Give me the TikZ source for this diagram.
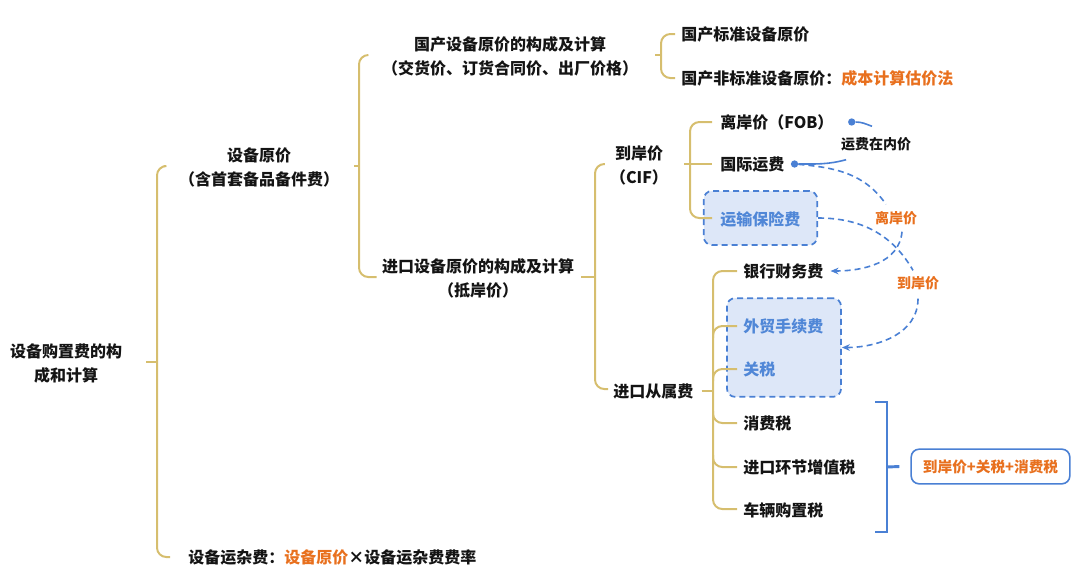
\documentclass[tikz,border=0pt]{standalone}
\usepackage{fontspec}
\setmainfont{Noto Sans CJK SC}
\usetikzlibrary{calc,arrows.meta}
\definecolor{gold}{RGB}{214,190,110}
\definecolor{bblue}{RGB}{74,128,212}
\definecolor{tblue}{RGB}{80,135,215}
\definecolor{lblue}{RGB}{221,231,248}
\definecolor{orng}{RGB}{232,112,30}
\definecolor{ink}{RGB}{20,20,20}
\begin{document}
\begin{tikzpicture}[x=0.75pt,y=-0.75pt,
  txt/.style={inner sep=0pt,font=\fontsize{12}{18}\selectfont\bfseries,text=ink,align=center},
  lbl/.style={inner sep=2pt,font=\fontsize{10.5}{14}\selectfont\bfseries},
  br/.style={draw=gold,line width=1.5pt,rounded corners=7pt},
  dbox/.style={draw=bblue,dash pattern=on 4.5pt off 3pt,line width=1.3pt,fill=lblue,rounded corners=6pt,inner sep=0pt},
  dline/.style={draw=bblue,dash pattern=on 4.5pt off 3pt,line width=1.2pt},
  dotn/.style={circle,fill=bblue,inner sep=0pt,minimum size=5.5pt},
  bluebr/.style={draw=bblue,line width=2.2pt}]
\useasboundingbox (0,0) rectangle (1080,576);
% dashed boxes
\node[dbox,minimum width=85pt,minimum height=40.5pt] (bxbox) at (760.5,218) {};
\node[dbox,minimum width=85.5pt,minimum height=74pt] (box2) at (784,347.5) {};
% texts
\node[txt] (root) at (66,363) {设备购置费的构\\成和计算};
\node[txt] (yj) at (259,167) {设备原价\\（含首套备品备件费）};
\node[txt,anchor=west] (ysf) at (188,557) {设备运杂费：\textcolor{orng}{设备原价}×设备运杂费费率};
\node[txt] (gc) at (510,56) {国产设备原价的构成及计算\\（交货价、订货合同价、出厂价格）};
\node[txt] (jk) at (478,278) {进口设备原价的构成及计算\\（抵岸价）};
\node[txt,anchor=west] (gb) at (681,34) {国产标准设备原价};
\node[txt,anchor=west] (gf) at (681,78) {国产非标准设备原价：\textcolor{orng}{成本计算估价法}};
\node[txt] (daj) at (639,165) {到岸价\\（CIF）};
\node[txt,anchor=west] (cs) at (613,391) {进口从属费};
\node[txt,anchor=west] (fob) at (720,122) {离岸价（FOB）};
\node[txt,anchor=west] (yf) at (720,165) {国际运费};
\node[txt,anchor=west,text=tblue] (bx) at (720,219) {运输保险费};
\node[txt,anchor=west] (yh) at (743,271) {银行财务费};
\node[txt,anchor=west,text=tblue] (wm) at (743,326) {外贸手续费};
\node[txt,anchor=west,text=tblue] (gs) at (743,369) {关税};
\node[txt,anchor=west] (xf) at (743,423) {消费税};
\node[txt,anchor=west] (zz) at (743,467) {进口环节增值税};
\node[txt,anchor=west] (cl) at (743,510) {车辆购置税};
\node[draw=bblue,line width=1.2pt,rounded corners=6pt,fill=white,minimum width=119pt,minimum height=26pt,inner sep=0pt,
      font=\fontsize{11}{14}\selectfont\bfseries,text=orng] (fm) at (990.5,466.5) {到岸价+关税+消费税};
\node[lbl,text=ink] (nj) at (876,144) {运费在内价};
\node[lbl,text=orng] (lab1) at (896,218) {离岸价};
\node[lbl,text=orng] (lab2) at (918,283) {到岸价};
% spines
\coordinate (s1) at (157,362);
\coordinate (s2) at (359,166);
\coordinate (s3) at (661,55);
\coordinate (s4) at (595,277);
\coordinate (s5) at (690,164);
\coordinate (s6) at (713,391);
% level 1
\draw[br] ($(root.east)+(24,-1)$) -- (s1);
\draw[br] ($(yj.west)+(-15,-1)$) -| (s1) |- ($(ysf.west)+(-18,0)$);
% level 2
\draw[br] ($(yj.east)+(15,-1)$) -- (s2);
\draw[br] ($(gc.west)+(-14,-1)$) -| (s2) |- ($(jk.west)+(-5,-1)$);
% level 3 domestic
\draw[br] ($(gc.east)+(17,-1)$) -- (s3);
\draw[br] ($(gb.west)+(-6,0)$) -| (s3) |- ($(gf.west)+(-6,0)$);
% level 3 import
\draw[br] ($(jk.east)+(7,-1)$) -- (s4);
\draw[br] ($(daj.west)+(-5,-1)$) -| (s4) |- ($(cs.west)+(-5,-2)$);
% level 4 CIF
\draw[br] ($(daj.east)+(16,-1)$) -- ($(yf.west)+(-8,-1)$);
\draw[br] ($(fob.west)+(-8,0)$) -| (s5) |- ($(bx.west)+(-8,-1)$);
% level 4 subsidiary fees
\draw[br] ($(cs.east)+(8,0)$) -- (s6);
\draw[br] ($(yh.west)+(-6,0)$) -| (s6) |- ($(cl.west)+(-6,-1)$);
\draw[br] ($(wm.west)+(-6,0)$) -| ++(-24,12);
\draw[br] ($(gs.west)+(-6,0)$) -| ++(-24,12);
\draw[br] ($(xf.west)+(-6,0)$) -| ++(-24,-12);
\draw[br] ($(zz.west)+(-6,0)$) -| ++(-24,-12);
% blue bracket
\draw[bluebr] (875,402) -- (887,402) -- (887,532) -- (875,532);
\draw[bluebr] (887,467) -- ($(fm.west)+(-11,0)$);
% dots and solid links
\node[dotn] (fobdot) at ($(fob.east)+(18,0)$) {};
\node[dotn] (yfdot) at ($(yf.east)+(10,-1)$) {};
\draw[draw=bblue,line width=1.2pt] (fobdot) to[out=0,in=160] ($(nj.north)+(-4,-8)$);
\draw[draw=bblue,line width=1.2pt] (yfdot) to[out=0,in=195] ($(nj.south west)+(8,6)$);
% dashed arrows
\draw[dline] (yfdot) to[out=-5,in=125] ($(lab1.north)+(-10,-4)$);
\draw[dline,-{Stealth[length=6pt,width=5pt]}] ($(lab1.south)+(6,4)$) to[out=-95,in=0] ($(yh.east)+(7,0)$);
\draw[dline] (bxbox.east) to[out=0,in=120] ($(lab2.north)+(-5,-3)$);
\draw[dline,-{Stealth[length=6pt,width=5pt]}] ($(lab2.south)+(0,6)$) to[out=-90,in=0] (box2.east);
\end{tikzpicture}
\end{document}
